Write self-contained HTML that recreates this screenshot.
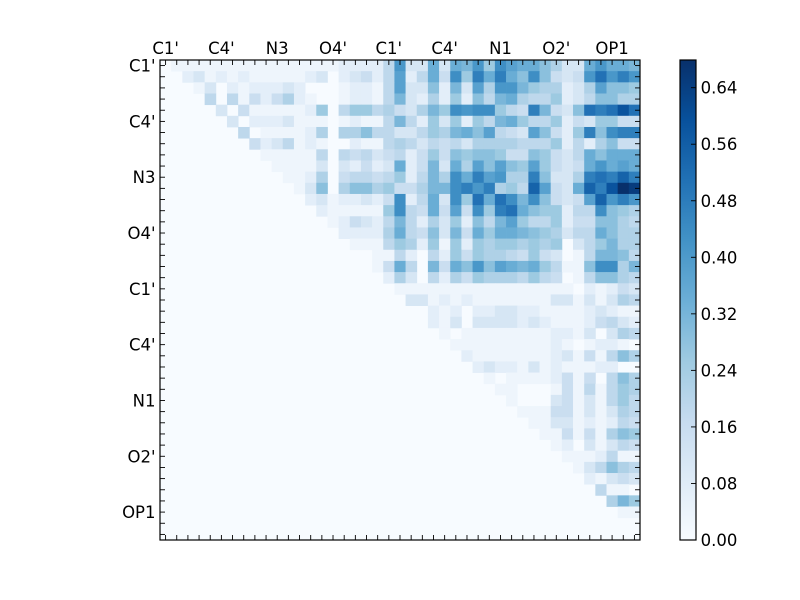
<!DOCTYPE html>
<html>
<head>
<meta charset="utf-8">
<style>
html,body{margin:0;padding:0;background:#fff;width:800px;height:600px;overflow:hidden}
svg{display:block}
text{font-family:"DejaVu Sans","Liberation Sans",sans-serif;font-size:16.5px;fill:#000}
</style>
</head>
<body>
<svg id="s" width="800" height="600" viewBox="0 0 800 600" xmlns="http://www.w3.org/2000/svg">
<defs>
<linearGradient id="cb" x1="0" y1="1" x2="0" y2="0">
<stop offset="0" stop-color="#f7fbff"/>
<stop offset="0.125" stop-color="#deebf7"/>
<stop offset="0.25" stop-color="#c6dbef"/>
<stop offset="0.375" stop-color="#9ecae1"/>
<stop offset="0.5" stop-color="#6baed6"/>
<stop offset="0.625" stop-color="#4292c6"/>
<stop offset="0.75" stop-color="#2171b5"/>
<stop offset="0.875" stop-color="#08519c"/>
<stop offset="1" stop-color="#08306b"/>
</linearGradient>
</defs>
<rect x="160" y="60" width="480" height="480" fill="#f7fbff"/>
<g id="cells"></g>
<g id="ticks" stroke="#000" stroke-width="0.9"></g>
<rect x="160" y="60" width="480" height="480" fill="none" stroke="#000" stroke-width="1.2"/>

<!-- top labels -->
<g text-anchor="middle">
<text x="165.6" y="54">C1'</text>
<text x="221.4" y="54">C4'</text>
<text x="277.2" y="54">N3</text>
<text x="333.0" y="54">O4'</text>
<text x="388.8" y="54">C1'</text>
<text x="444.7" y="54">C4'</text>
<text x="500.5" y="54">N1</text>
<text x="556.3" y="54">O2'</text>
<text x="612.1" y="54">OP1</text>
</g>
<!-- left labels -->
<g text-anchor="end">
<text x="155.5" y="71.6">C1'</text>
<text x="155.5" y="127.4">C4'</text>
<text x="155.5" y="183.2">N3</text>
<text x="155.5" y="239.0">O4'</text>
<text x="155.5" y="294.8">C1'</text>
<text x="155.5" y="350.7">C4'</text>
<text x="155.5" y="406.5">N1</text>
<text x="155.5" y="462.3">O2'</text>
<text x="155.5" y="518.1">OP1</text>
</g>

<!-- colorbar -->
<rect x="680" y="60" width="16" height="480" fill="url(#cb)" stroke="#000" stroke-width="1.2"/>
<g stroke="#000" stroke-width="0.9">
<line x1="691" y1="540" x2="696" y2="540"/>
<line x1="691" y1="483.46" x2="696" y2="483.46"/>
<line x1="691" y1="426.92" x2="696" y2="426.92"/>
<line x1="691" y1="370.38" x2="696" y2="370.38"/>
<line x1="691" y1="313.84" x2="696" y2="313.84"/>
<line x1="691" y1="257.30" x2="696" y2="257.30"/>
<line x1="691" y1="200.76" x2="696" y2="200.76"/>
<line x1="691" y1="144.22" x2="696" y2="144.22"/>
<line x1="691" y1="87.68" x2="696" y2="87.68"/>
</g>
<g>
<text x="700.6" y="546">0.00</text>
<text x="700.6" y="489.5">0.08</text>
<text x="700.6" y="432.9">0.16</text>
<text x="700.6" y="376.4">0.24</text>
<text x="700.6" y="319.8">0.32</text>
<text x="700.6" y="263.3">0.40</text>
<text x="700.6" y="206.8">0.48</text>
<text x="700.6" y="150.2">0.56</text>
<text x="700.6" y="93.7">0.64</text>
</g>
</svg>
<script>
(function(){
var NS="http://www.w3.org/2000/svg";
var P={'0':'#f7fbff','1':'#eef5fc','2':'#e3eef9','3':'#d6e6f4','4':'#cadef0','5':'#bed8ec','6':'#afd1e7','7':'#9dcae1','8':'#8bc0dd','9':'#7ab6d9','a':'#69add5','b':'#58a1cf','c':'#4997c9','d':'#3e8ec4','e':'#2f7fbc','f':'#2271b5','g':'#1663aa','h':'#0a539e','i':'#083c7d','j':'#08306b'};
var D=[
["01111111111111112222","5c33a3a9c7db","aa8633acaa9"],
["00231212111112302342","5b25a4d7eaea","8d8434cfcec"],
["00013021222320001221","5b338293b6cc","9766236b887"],
["00005051424621001221","59326272859a","65572358866"],
["00000304111112705775","643697dcdd75","4e9438fefhf"],
["00000030222311101211","59527372759a","75572437744"],
["00000005011112606685","5335769a8b54","3b8427e8dee"],
["00000000423512100211","565354536666","55572526844"],
["00000000011111505453","452474878874","487435a8aaa"],
["00000000001111303242","3a2493a6b8b8","7b7434acaba"],
["00000000000112604554","572596daebc6","6e8336efege"],
["00000000000013806886","744699dece67","5gb43agehji"],
["00000000000002312232","4d25a3d7fafd","9d8434bgcec"],
["00000000000000211111","7d54a4b4d7ef","a877255d876"],
["00000000000000012432","59526372859b","75572448865"],
["2222","6a548394a7aa","9876355a866"],
["111","576271727677","67670357966"],
["1","152052747665","47430159985"],
["1","4a5094a8c8ba","9a75118dd69"],
["","263052647666","57540158865"],
["","011111111111","11111021243"],
["","003312121111","11133131365"],
["","000021202233","22111123211"],
["","000021303333","23211124532"],
["","000001011111","11122130365"],
["","000000111111","11121012210"],
["","000000021111","11123141586"],
["","000000002322","13121112200"],
["","000000000101","11124140586"],
["","000000000011","00014151576"],
["","000000000001","00034131575"],
["","","11144131365"],
["","","01133121254"],
["","","114141687"],
["","","12031354"],
["","","1112511"],
["","","135865"],
["","","21343"],
["","","5110"],
["","","697"],
["","","11"]
];
function pad(s,n){while(s.length<n)s='0'+s;return s;}
var w=480/43;
var g=document.getElementById('cells');
for(var i=0;i<D.length;i++){
  var s=pad(D[i][0],20)+pad(D[i][1],12)+pad(D[i][2],11);
  for(var k=0;k<43;k++){
    var c=s.charAt(k);
    if(c==='0'||!P[c])continue;
    var r=document.createElementNS(NS,'rect');
    r.setAttribute('x',(160+k*w).toFixed(2));
    r.setAttribute('y',(60+i*w).toFixed(2));
    r.setAttribute('width',(w+0.4).toFixed(2));
    r.setAttribute('height',(w+0.4).toFixed(2));
    r.setAttribute('fill',P[c]);
    g.appendChild(r);
  }
}
var t=document.getElementById('ticks');
function ln(x1,y1,x2,y2){var l=document.createElementNS(NS,'line');l.setAttribute('x1',x1);l.setAttribute('y1',y1);l.setAttribute('x2',x2);l.setAttribute('y2',y2);t.appendChild(l);}
for(var k=0;k<43;k++){
  var c=(160+(k+0.5)*w).toFixed(2);
  var y=(60+(k+0.5)*w).toFixed(2);
  ln(c,60,c,65);
  ln(c,540,c,535);
  ln(160,y,165,y);
  ln(640,y,635,y);
}
})();
</script>
</body>
</html>
